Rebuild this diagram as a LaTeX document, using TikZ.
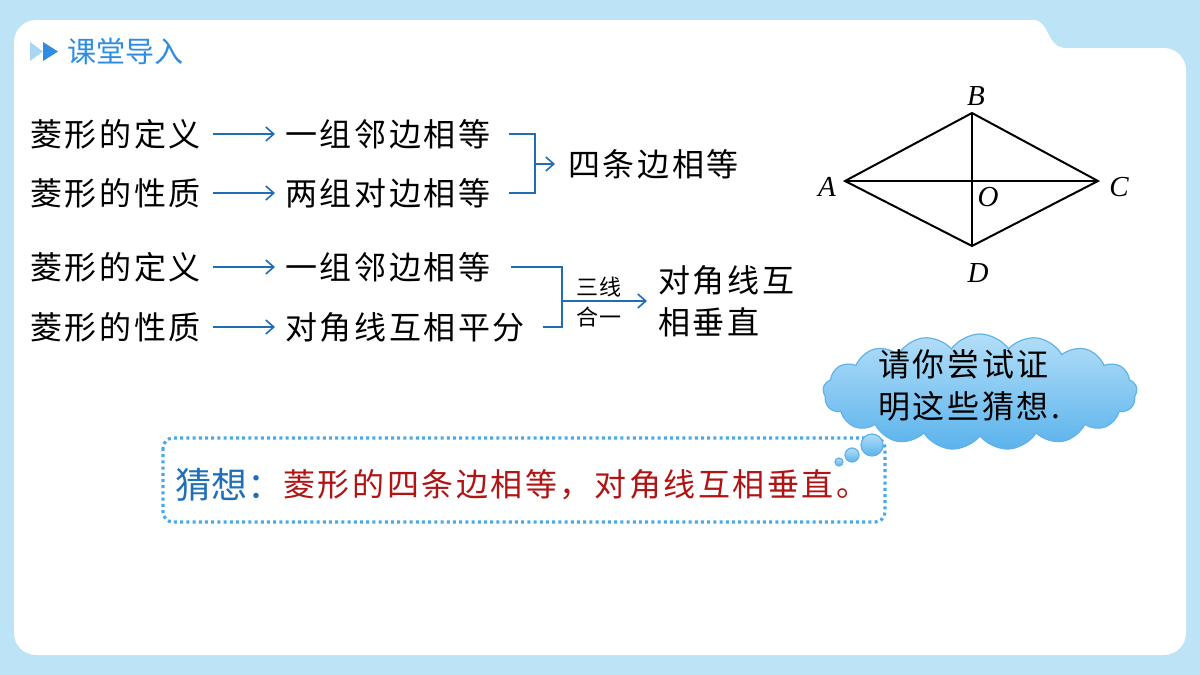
\documentclass[tikz,border=0pt]{standalone}
\usepackage{fontspec}
\setmainfont{Liberation Serif}
\newfontfamily\cjk[LetterSpace=8]{Noto Sans CJK SC}
\newfontfamily\cjkplain{Noto Sans CJK SC}
\usetikzlibrary{arrows.meta,shapes.symbols}
\definecolor{bgblue}{HTML}{BDE3F7}
\definecolor{titleblue}{HTML}{2E8DE0}
\definecolor{lightri}{HTML}{A9D6F5}
\definecolor{arrblue}{HTML}{1F6DB5}
\definecolor{dotblue}{HTML}{4BA9E6}
\definecolor{guessblue}{HTML}{1E6FB8}
\definecolor{guessred}{HTML}{B01515}
\definecolor{cloudtop}{HTML}{B3DEF8}
\definecolor{cloudbot}{HTML}{5AB3EC}
\definecolor{cloudedge}{HTML}{62B2E6}
\tikzset{
  txt/.style={inner sep=0pt, anchor=west, font=\cjk\fontsize{16pt}{21pt}\selectfont},
  small/.style={inner sep=0pt, font=\cjk\fontsize{11pt}{13pt}\selectfont},
  lbl/.style={inner sep=0pt, font=\fontsize{14.5pt}{16pt}\selectfont\itshape},
  arr/.style={draw=arrblue, line width=0.8pt, -{Straight Barb[length=4pt,width=7pt,line width=0.8pt]}},
  brk/.style={draw=arrblue, line width=0.8pt},
  geo/.style={draw=black, line width=1pt},
  bubble/.style={draw=cloudedge, line width=0.6pt, top color=cloudtop, bottom color=cloudbot},
}
\begin{document}
\begin{tikzpicture}[x=0.5pt,y=-0.5pt]
\useasboundingbox (0,0) rectangle (1200,675);
\fill[bgblue] (0,0) rectangle (1200,675);
% white panel
\fill[white] (14,42) .. controls (14,30) and (24,20) .. (36,20) -- (1033,20)
  .. controls (1050,20) and (1046,48) .. (1066,48) -- (1164,48)
  .. controls (1176,48) and (1186,58) .. (1186,70) -- (1186,633)
  .. controls (1186,645) and (1176,655) .. (1164,655) -- (36,655)
  .. controls (24,655) and (14,645) .. (14,633) -- cycle;
% title
\fill[lightri] (30,42) -- (43,51.5) -- (30,61) -- cycle;
\fill[titleblue] (43,42) -- (58,51.5) -- (43,61) -- cycle;
\node[inner sep=0pt, anchor=west, text=titleblue, font=\cjkplain\fontsize{14.5pt}{16pt}\selectfont] (title) at (67,51) {课堂导入};

% group 1
\node[txt] (d1) at (30,134) {菱形的定义};
\node[txt] (p1) at (30,193) {菱形的性质};
\node[txt] (a1) at (285,134) {一组邻边相等};
\node[txt] (b1) at (285,193) {两组对边相等};
\node[txt] (four) at (568,164) {四条边相等};
\draw[arr, shorten <=6pt, shorten >=5pt] (d1) -- (a1);
\draw[arr, shorten <=6pt, shorten >=5pt] (p1) -- (b1);
\coordinate (j1) at (535,164);
\draw[brk] ([xshift=9pt]a1.east) -| (j1);
\draw[brk] ([xshift=9pt]b1.east) -| (j1);
\draw[arr, shorten >=6.5pt] (j1) -- (four);

% group 2
\node[txt] (d2) at (30,267) {菱形的定义};
\node[txt] (p2) at (30,327) {菱形的性质};
\node[txt] (a2) at (285,267) {一组邻边相等};
\node[txt] (b2) at (285,327) {对角线互相平分};
\node[txt, align=left] (res) at (658,301) {对角线互\\相垂直};
\draw[arr, shorten <=6pt, shorten >=5pt] (d2) -- (a2);
\draw[arr, shorten <=6pt, shorten >=5pt] (p2) -- (b2);
\coordinate (j2) at (562,301);
\draw[brk] ([xshift=10pt]a2.east) -| (j2);
\draw[brk] ([xshift=9pt]b2.east) -| (j2);
\draw[arr, shorten >=5.5pt] (j2) -- (res);
\node[small] (sx) at (599,287) {三线};
\node[small] (hy) at (599,317) {合一};

% rhombus
\coordinate (A) at (845,181);
\coordinate (B) at (972,113);
\coordinate (C) at (1098,181);
\coordinate (D) at (972,246);
\draw[geo, line join=miter] (A) -- (B) -- (C) -- (D) -- cycle;
\draw[geo] (A) -- (C);
\draw[geo] (B) -- (D);
\node[lbl] (lA) at (827,187) {A};
\node[lbl] (lB) at (976,96) {B};
\node[lbl] (lC) at (1119,187) {C};
\node[lbl] (lD) at (978,273) {D};
\node[lbl] (lO) at (988,197) {O};

% guess box
\draw[dotblue, line width=1.6pt, dash pattern=on 1.5pt off 1.6pt, rounded corners=5pt] (163,438) rectangle (885,522);
\node[inner sep=0pt, anchor=west, text=guessblue, font=\cjkplain\fontsize{18pt}{20pt}\selectfont] (guess) at (175,485) {猜想：};
\node[txt, text=guessred] (conj) at (283,485) {菱形的四条边相等，对角线互相垂直。};

% cloud
\node[cloud, cloud puffs=17, cloud puff arc=110, aspect=2.6, bubble,
  minimum width=157pt, minimum height=58pt, inner sep=0pt] (cloud) at (980,392) {};
\node[txt, align=left] (ctext) at (878,385) {请你尝试证\\明这些猜想.};
\draw[bubble] (872,445) circle[radius=11];
\draw[bubble] (852,455) circle[radius=7];
\draw[bubble] (839,462) circle[radius=4];
\end{tikzpicture}
\end{document}
